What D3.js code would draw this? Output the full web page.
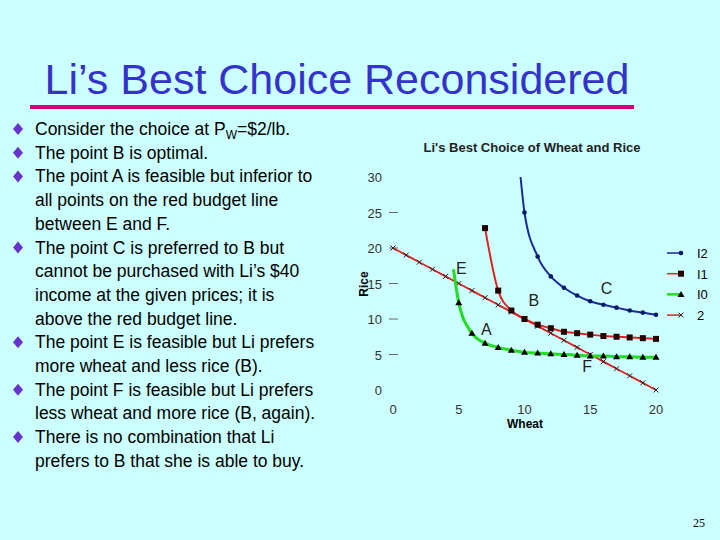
<!DOCTYPE html>
<html><head><meta charset="utf-8">
<script src="https://cdn.jsdelivr.net/npm/d3@7"></script>
<style>
body{margin:0;background:#ccffff;}
svg{font-family:Arial,"Liberation Sans",sans-serif;}
</style></head>
<body><svg id="s" width="720" height="540"></svg>
<script>
// curves (wheat, rice)
var i2 = [[9.7,30],[10,25],[11,18.8],[12,16],[13,14.4],[14,13.3],[15,12.5],[16,12],[17,11.6],[18,11.2],[19,10.9],[20,10.6]];
var i1 = [[7,22.8],[8,14],[9,11.2],[10,10],[11,9.2],[12,8.7],[13,8.2],[14,8],[15,7.8],[16,7.6],[17,7.5],[18,7.4],[19,7.3],[20,7.2]];
var i0 = [[4.6,17],[5,12.3],[6,8],[7,6.6],[8,6],[9,5.6],[10,5.3],[11,5.2],[12,5.1],[13,5],[14,4.9],[15,4.8],[16,4.8],[17,4.7],[18,4.7],[19,4.6],[20,4.6]];
var budget = [[0,20],[1,19],[2,18],[3,17],[4,16],[5,15],[6,14],[7,13],[8,12],[9,11],[10,10],[11,9],[12,8],[13,7],[14,6],[15,5],[16,4],[17,3],[18,2],[19,1],[20,0]];
var xTicks = [0,5,10,15,20];
var yTicks = [0,5,10,15,20,25,30];
var pointLabels = [["E",4.8,16.3],["A",6.7,7.8],["B",10.3,11.8],["C",15.8,13.5],["F",14.4,2.6]];
var bullets = [
  ["Consider the choice at P","W","=$2/lb."],
  ["The point B is optimal."],
  ["The point A is feasible but inferior to","all points on the red budget line","between E and F."],
  ["The point C is preferred to B but","cannot be purchased with Li’s $40","income at the given prices; it is","above the red budget line."],
  ["The point E is feasible but Li prefers","more wheat and less rice (B)."],
  ["The point F is feasible but Li prefers","less wheat and more rice (B, again)."],
  ["There is no combination that Li","prefers to B that she is able to buy."]
];

var svg = d3.select("#s");

svg.append("text").attr("x",337).attr("y",94).attr("text-anchor","middle")
  .attr("font-size",43).attr("fill","#3333cc").text("Li’s Best Choice Reconsidered");
svg.append("rect").attr("x",30).attr("y",105).attr("width",604).attr("height",4).attr("fill","#cc0077");

// bullet text
var ly = 135;
bullets.forEach(function(b, bi) {
  svg.append("path").attr("d","M0,-6L5,0L0,6L-5,0Z").attr("fill","#6633cc")
    .attr("transform","translate(18,"+(ly-6)+")");
  if (bi == 0) {
    var t = svg.append("text").attr("x",35).attr("y",ly).attr("font-size",17.5).attr("fill","#000");
    t.append("tspan").text(b[0]);
    t.append("tspan").attr("font-size",12).attr("dy",4).text(b[1]);
    t.append("tspan").attr("dy",-4).text(b[2]);
    ly += 23.7;
  } else {
    b.forEach(function(line) {
      svg.append("text").attr("x",35).attr("y",ly).attr("font-size",17.5).text(line);
      ly += 23.7;
    });
  }
});

svg.append("text").attr("x",705).attr("y",527).attr("text-anchor","end")
  .attr("font-family","Liberation Serif,serif").attr("font-size",12).text("25");

// chart
var x = d3.scaleLinear().domain([0,20]).range([393,656]);
var y = d3.scaleLinear().domain([0,30]).range([390,177]);

svg.append("text").attr("x",532).attr("y",152).attr("text-anchor","middle")
  .attr("font-size",13).attr("font-weight","bold").attr("fill","#222").text("Li's Best Choice of Wheat and Rice");

var ya = svg.append("g");
yTicks.forEach(function(v) {
  ya.append("text").attr("x",382).attr("y",y(v)+5).attr("text-anchor","end")
    .attr("font-size",13).attr("fill","#333").text(v);
  if (v > 0 && v < 30) ya.append("line").attr("x1",389).attr("x2",398)
    .attr("y1",y(v)).attr("y2",y(v)).attr("stroke","#666");
});
xTicks.forEach(function(v) {
  svg.append("text").attr("x",x(v)).attr("y",414).attr("text-anchor","middle")
    .attr("font-size",13).attr("fill","#333").text(v);
});
svg.append("text").attr("x",525).attr("y",428).attr("text-anchor","middle")
  .attr("font-size",12).attr("font-weight","bold").text("Wheat");
svg.append("text").attr("transform","translate(368,284) rotate(-90)").attr("text-anchor","middle")
  .attr("font-size",12).attr("font-weight","bold").text("Rice");

var line = d3.line().x(function(d){return x(d[0]);}).y(function(d){return y(d[1]);}).curve(d3.curveMonotoneX);

function marker(g, kind, px, py) {
  if (kind == "d") g.append("circle").attr("cx",px).attr("cy",py).attr("r",2.3).attr("fill","#001a66");
  if (kind == "s") g.append("rect").attr("x",px-3).attr("y",py-3).attr("width",6).attr("height",6).attr("fill","#220000");
  if (kind == "t") g.append("path").attr("d","M"+px+","+(py-3.5)+"l3.5,6h-7z").attr("fill","#000");
  if (kind == "x") g.append("path").attr("d","M"+(px-2.5)+","+(py-2.5)+"l5,5M"+(px+2.5)+","+(py-2.5)+"l-5,5")
    .attr("stroke","#222").attr("stroke-width",1);
}

var series = [
  {d:budget, c:"#dd2222", w:1.8, k:"x", name:"2", skip:false},
  {d:i0, c:"#22dd22", w:3, k:"t", name:"I0", skip:true},
  {d:i1, c:"#dd2222", w:2, k:"s", name:"I1", skip:false},
  {d:i2, c:"#1a2a99", w:2, k:"d", name:"I2", skip:true}
];
series.forEach(function(s) {
  svg.append("path").datum(s.d).attr("d",line).attr("fill","none")
    .attr("stroke",s.c).attr("stroke-width",s.w);
  var g = svg.append("g");
  s.d.forEach(function(p, i) {
    if (s.skip && i == 0) return;
    marker(g, s.k, x(p[0]), y(p[1]));
  });
});

pointLabels.forEach(function(p) {
  svg.append("text").attr("x",x(p[1])).attr("y",y(p[2])).attr("font-size",16).attr("fill","#222").text(p[0]);
});

// legend
var lg = series.slice().reverse();
lg.forEach(function(s, i) {
  var yy = 253 + i*20.7;
  svg.append("line").attr("x1",667).attr("x2",681).attr("y1",yy).attr("y2",yy)
    .attr("stroke",s.c).attr("stroke-width",s.w > 2 ? 2.5 : 1.5);
  marker(svg, s.k, 681, yy);
  svg.append("text").attr("x",697).attr("y",yy+5).attr("font-size",13).text(s.name);
});
</script></body></html>
